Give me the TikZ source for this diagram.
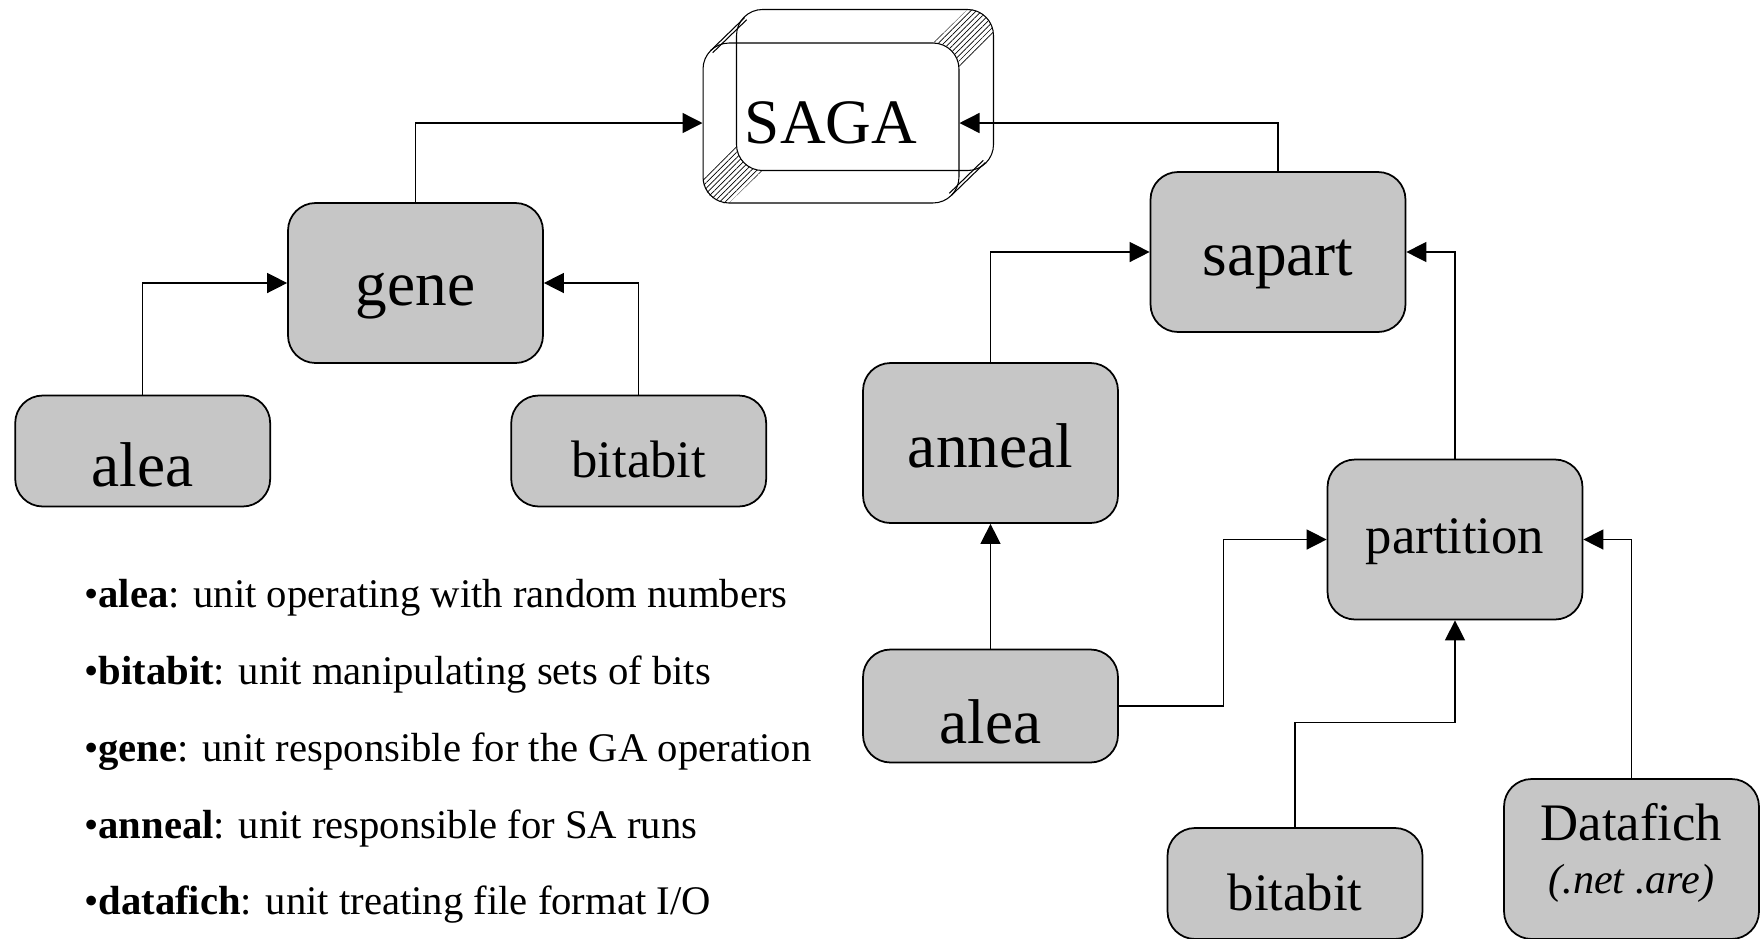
\documentclass[tikz,border=0pt]{standalone}
\usepackage{fontspec}
\setmainfont{Liberation Serif}
\usepackage{tikz}
\usetikzlibrary{arrows.meta, calc, backgrounds, patterns.meta}
\definecolor{unitgray}{RGB}{198, 198, 198}

\begin{document}
\begin{tikzpicture}[
    x=0.02cm, y=-0.02cm,
    unit/.style={rectangle, draw, line width=1pt, rounded corners=0.55cm,
                 fill=unitgray, minimum width=5.1cm, inner sep=1pt, text depth=0pt},
    tall/.style={minimum height=3.2cm},
    short/.style={minimum height=2.22cm},
    big/.style={font=\fontsize{36}{40}\selectfont},
    mid/.style={font=\fontsize{30}{34}\selectfont},
    flow/.style={-{Triangle[length=0.4cm, width=0.4cm]}, line width=0.8pt},
    bevel/.style={line width=0.6pt},
    hatch/.style={pattern={Lines[angle=45, distance=2.2pt, line width=0.4pt]}},
    defn/.style={anchor=base west, inner sep=0pt, font=\fontsize{23.15}{27}\selectfont}
]
    \useasboundingbox (0,0) rectangle (1762,938);

    % Main program (bevelled box)
    \node[bevel, draw, rounded corners=0.52cm, minimum width=5.12cm,
          minimum height=3.2cm, big] (saga) at (831,123) {SAGA};
    \coordinate (backsw) at ($(saga.south west)+(34,-33)$);
    \coordinate (backne) at ($(saga.north east)+(34,-33)$);
    \begin{scope}[on background layer]
        \begin{scope}
            \clip[rounded corners=0.52cm] (backsw) rectangle (backne);
            \fill[hatch] (933,43) -- (976,1) -- (1010,19.5) -- (959,69) -- cycle;
        \end{scope}
        \begin{scope}
            \clip[rounded corners=0.52cm] (saga.south west) rectangle (saga.north east);
            \fill[hatch] (737,144) -- (686,193.5) -- (712,219.5) -- (763,170) -- cycle;
            \fill[white, rounded corners=0.52cm] (backsw) rectangle (backne);
        \end{scope}
    \end{scope}
    \draw[bevel, rounded corners=0.52cm] (backsw) rectangle (backne);
    \draw[bevel] (710.6,50.6) -- (744.6,17.6);
    \draw[bevel] (712.7,52.7) -- (746.7,19.7);
    \draw[bevel] (951.4,195.4) -- (985.4,162.4);
    \draw[bevel] (949.3,193.3) -- (983.3,160.3);

    % GA branch
    \node[unit, tall, big, text height=0.88cm] (gene) at (415.5,283) {gene};
    \node[unit, short, big, text height=1.42cm] (alea) at (142.7,451) {alea};
    \node[unit, short, mid, text height=1.06cm] (bitabit) at (638.7,451) {bitabit};

    % SA branch
    \node[unit, tall, big, text height=0.92cm] (sapart) at (1278,252) {sapart};
    \node[unit, tall, big, text height=0.96cm] (anneal) at (990.5,443) {anneal};
    \node[unit, tall, mid, text height=0.56cm] (partition) at (1455,539.5) {partition};
    \node[unit, big, minimum height=2.26cm, text height=1.48cm] (alea2) at (990.5,706) {alea};
    \node[unit, short, mid, text height=1.06cm] (bitabit2) at (1295,883.5) {bitabit};
    \node[unit, tall, mid, text height=0pt, text depth=0.76cm] (datafich) at (1631.5,859) {Datafich};
    \node[anchor=base, inner sep=0pt, font=\fontsize{24}{28}\selectfont\itshape]
        (datafichext) at ([yshift=-0.68cm]datafich.center) {(.net .are)};

    % Dependencies
    \draw[flow] (gene.north) |- (saga.west);
    \draw[flow] (sapart.north) |- (saga.east);
    \draw[flow] (alea.north) |- (gene.west);
    \draw[flow] (bitabit.north) |- (gene.east);
    \draw[flow] (anneal.north) |- (sapart.west);
    \draw[flow] (partition.north) |- (sapart.east);
    \draw[flow] (alea2.north) -- (anneal.south);
    \draw[flow] (alea2.east) -- ++(104.5,0) |- (partition.west);
    \draw[flow] (bitabit2.north) -- ++(0,-104.5) -| (partition.south);
    \draw[flow] (datafich.north) |- (partition.east);

    % Legend
    \node[defn] (defalea) at (84,607) {•\textbf{alea}: unit operating with random numbers};
    \node[defn] (defbitabit) at (84,684) {•\textbf{bitabit}: unit manipulating sets of bits};
    \node[defn] (defgene) at (84,761) {•\textbf{gene}: unit responsible for the GA operation};
    \node[defn] (defanneal) at (84,838) {•\textbf{anneal}: unit responsible for SA runs};
    \node[defn] (defdatafich) at (84,914) {•\textbf{datafich}: unit treating file format I/O};
\end{tikzpicture}
\end{document}
